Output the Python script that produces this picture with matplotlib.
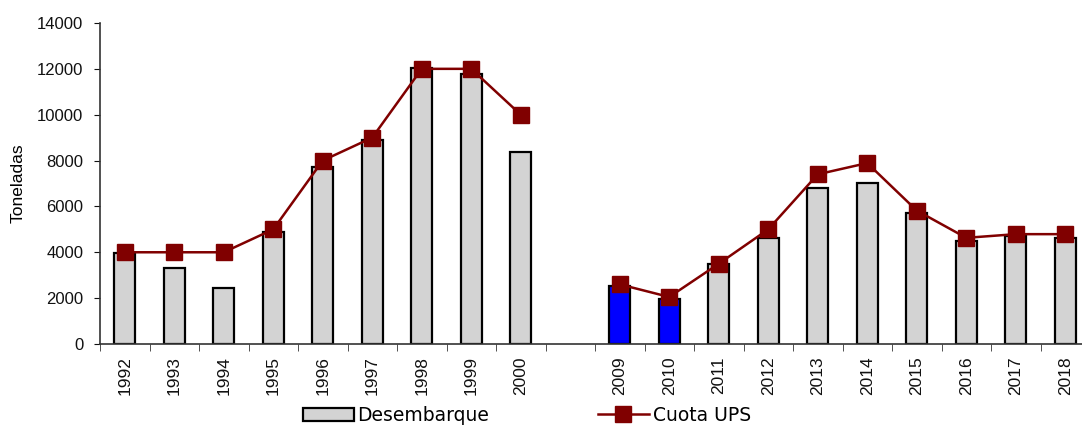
import numpy as np
import matplotlib
matplotlib.use("Agg")
import matplotlib.pyplot as plt
from matplotlib.patches import Patch
from matplotlib.lines import Line2D

plt.rcParams["font.family"] = ["Liberation Sans", "DejaVu Sans"]

# Años (hueco entre 2000 y 2009)
years = ["1992", "1993", "1994", "1995", "1996", "1997", "1998", "1999", "2000", "",
         "2009", "2010", "2011", "2012", "2013", "2014", "2015", "2016", "2017", "2018"]
desembarque = [3950, 3330, 2420, 4900, 7740, 8900, 12050, 11770, 8380, np.nan,
               2530, 1960, 3490, 4640, 6820, 7000, 5730, 4500, 4690, 4630]
cuota_ups = [4000, 4000, 4000, 5000, 8000, 9000, 12000, 12000, 10000, np.nan,
             2600, 2050, 3500, 5000, 7400, 7890, 5820, 4630, 4790, 4790]
azules = ["2009", "2010"]

x = np.arange(len(years))
bar_colors = ["#0000ff" if y in azules else "#d3d3d3" for y in years]

fig = plt.figure(figsize=(10.82, 4.28), dpi=100)
ax = fig.add_axes([100 / 1082, 0.1963, 990 / 1082, 0.75])

ax.bar(x, desembarque, width=0.42, color=bar_colors, edgecolor="black", linewidth=1.6, zorder=2)
ax.plot(x, cuota_ups, color="#800000", linewidth=1.8, marker="s", markersize=11, zorder=3)

ax.set_xlim(-0.5, len(years) - 0.5)
ax.set_ylim(0, 14000)
ax.set_yticks(range(0, 14001, 2000))
ax.tick_params(axis="y", labelsize=12, length=4, pad=8, direction="out", colors="#111111")

# etiquetas en el centro, marcas en los bordes de cada categoría
ax.set_xticks(x)
ax.set_xticklabels(years, rotation=90, fontsize=12.5, color="#111111")
ax.tick_params(axis="x", which="major", length=0, pad=9)
ax.set_xticks(np.arange(-0.5, len(years)), minor=True)
ax.tick_params(axis="x", which="minor", length=5, direction="out", color="#333333")

for side in ["top", "right"]:
    ax.spines[side].set_visible(False)
for side in ["left", "bottom"]:
    ax.spines[side].set_color("#333333")
    ax.spines[side].set_linewidth(1.2)

ax.set_ylabel("Toneladas", fontsize=12.5, labelpad=8)

handles = [Patch(facecolor="#d3d3d3", edgecolor="black", linewidth=1.6),
           Line2D([], [], color="#800000", linewidth=1.8, marker="s", markersize=11)]
fig.legend(handles, ["Desembarque", "Cuota UPS"], loc="center", bbox_to_anchor=(0.487, 0.03),
           ncol=2, frameon=False, prop={"family": "DejaVu Sans", "size": 13.5},
           handlelength=2.7, handletextpad=0.2, columnspacing=5.8)

fig.savefig("out.png", dpi=100)
